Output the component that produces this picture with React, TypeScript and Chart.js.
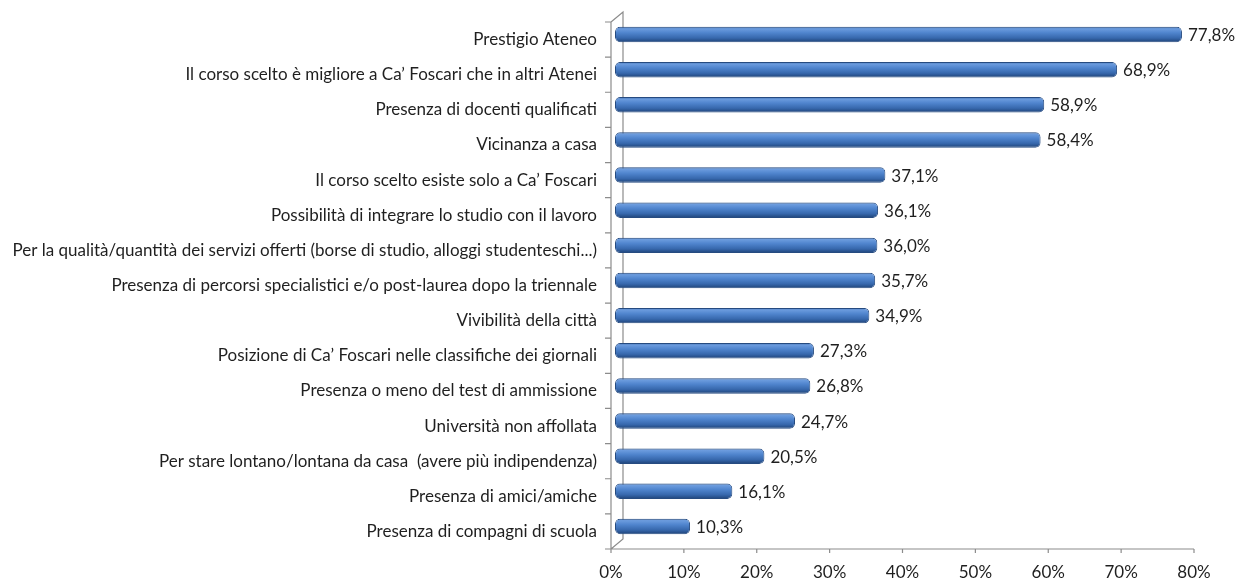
import React, { useEffect, useRef } from "react";
import { Chart, registerables } from "chart.js";

Chart.register(...registerables);

const categories = [
  "Prestigio Ateneo",
  "Il corso scelto è migliore a Ca’ Foscari che in altri Atenei",
  "Presenza di docenti qualificati",
  "Vicinanza a casa",
  "Il corso scelto esiste solo a Ca’ Foscari",
  "Possibilità di integrare lo studio con il lavoro",
  "Per la qualità/quantità dei servizi offerti (borse di studio, alloggi studenteschi...)",
  "Presenza di percorsi specialistici e/o post-laurea dopo la triennale",
  "Vivibilità della città",
  "Posizione di Ca’ Foscari nelle classifiche dei giornali",
  "Presenza o meno del test di ammissione",
  "Università non affollata",
  "Per stare lontano/lontana da casa  (avere più indipendenza)",
  "Presenza di amici/amiche",
  "Presenza di compagni di scuola",
];

const values = [77.8, 68.9, 58.9, 58.4, 37.1, 36.1, 36.0, 35.7, 34.9, 27.3, 26.8, 24.7, 20.5, 16.1, 10.3];

const xTicks = [0, 10, 20, 30, 40, 50, 60, 70, 80];

const FONT = "Lato";
const FSIZE = 17;
const TEXT = "#1f1f1f";
const FRAME = "#8c8c8c";
const BAR_PCT = 0.44;

const frameDX = -4;
const frameDY = 5;
const depthX = 12;
const depthY = -10;

const framePlugin = {
  id: "frame3d",
  beforeDatasetsDraw(chart: any) {
    const { ctx, scales } = chart;
    const ys = scales.y;
    const x0 = scales.x.getPixelForValue(0) + frameDX;
    const x1 = scales.x.getPixelForValue(80) + frameDX;
    const n = categories.length;
    const step = ys.getPixelForValue(1) - ys.getPixelForValue(0);
    const top = ys.getPixelForValue(0) - step / 2 + frameDY;
    const bottom = ys.getPixelForValue(n - 1) + step / 2 + frameDY;
    ctx.save();
    ctx.strokeStyle = FRAME;
    ctx.lineWidth = 1.2;
    ctx.beginPath();
    ctx.moveTo(x0, top);
    ctx.lineTo(x0, bottom);
    ctx.lineTo(x1, bottom);
    ctx.moveTo(x0, top);
    ctx.lineTo(x0 + depthX, top + depthY);
    ctx.lineTo(x0 + depthX, bottom + depthY);
    ctx.lineTo(x0, bottom);
    for (let k = 0; k <= n; k++) {
      const y = top + k * step;
      ctx.moveTo(x0 - 6, y);
      ctx.lineTo(x0, y);
    }
    xTicks.forEach((t) => {
      const x = scales.x.getPixelForValue(t) + frameDX;
      ctx.moveTo(x, bottom);
      ctx.lineTo(x, bottom + 4);
    });
    ctx.stroke();
    ctx.restore();
  },
};

const labelPlugin = {
  id: "valueLabels",
  afterDatasetsDraw(chart: any) {
    const { ctx } = chart;
    const meta = chart.getDatasetMeta(0);
    ctx.save();
    ctx.font = `${FSIZE}px ${FONT}`;
    ctx.fillStyle = TEXT;
    ctx.textAlign = "left";
    ctx.textBaseline = "middle";
    meta.data.forEach((el: any, i: number) => {
      const v = values[i];
      const txt = v.toFixed(1).replace(".", ",") + "%";
      ctx.fillText(txt, el.x + 6, el.y + 1);
    });
    ctx.restore();
  },
};

function barGradient(c: any) {
  const chart = c.chart;
  const scales = chart.scales;
  if (!chart.chartArea || !scales || !scales.y) return "#4f81bd";
  const y = scales.y.getPixelForValue(c.dataIndex);
  const step = scales.y.getPixelForValue(1) - scales.y.getPixelForValue(0);
  const h = Math.abs(step) * BAR_PCT;
  const g = chart.ctx.createLinearGradient(0, y - h / 2, 0, y + h / 2);
  g.addColorStop(0, "#2f5c9c");
  g.addColorStop(0.12, "#6c9cde");
  g.addColorStop(0.38, "#5085ce");
  g.addColorStop(0.72, "#3768ad");
  g.addColorStop(1, "#1e4276");
  return g;
}

export default function App() {
  const ref = useRef<HTMLCanvasElement | null>(null);
  useEffect(() => {
    if (!ref.current) return;
    const chart = new Chart(ref.current, {
      type: "bar",
      data: {
        labels: categories,
        datasets: [
          {
            data: values,
            backgroundColor: barGradient,
            borderColor: "#264b80",
            borderWidth: 1,
            borderSkipped: false,
            borderRadius: 5,
            barPercentage: BAR_PCT,
            categoryPercentage: 1,
          },
        ],
      },
      options: {
        indexAxis: "y",
        animation: false,
        responsive: false,
        maintainAspectRatio: false,
        layout: { padding: { top: 17, right: 39, left: 0, bottom: 0 } },
        plugins: {
          legend: { display: false },
          tooltip: { enabled: false },
        },
        scales: {
          y: {
            grid: { display: false, drawTicks: false },
            border: { display: false },
            afterFit(scale: any) {
              scale.width = 615;
              scale.paddingTop = 0;
              scale.paddingBottom = 0;
            },
            ticks: {
              padding: 18,
              labelOffset: 5,
              color: TEXT,
              font: { family: FONT, size: FSIZE },
              autoSkip: false,
            },
          },
          x: {
            min: 0,
            max: 80,
            grid: { display: false, drawTicks: false },
            border: { display: false },
            afterFit(scale: any) {
              scale.height = 37;
            },
            afterBuildTicks(scale: any) {
              scale.ticks = xTicks.map((v) => ({ value: v }));
            },
            ticks: {
              padding: 18,
              labelOffset: -4,
              color: TEXT,
              font: { family: FONT, size: FSIZE },
              maxRotation: 0,
              callback: (v: any) => v + "%",
            },
          },
        },
      },
      plugins: [framePlugin, labelPlugin],
    });
    return () => chart.destroy();
  }, []);
  return (
    <div style={{ position: "fixed", left: 0, top: 0, width: 1237, height: 581, background: "#fff" }}>
      <canvas ref={ref} width={1237} height={581} style={{ display: "block" }} />
    </div>
  );
}
